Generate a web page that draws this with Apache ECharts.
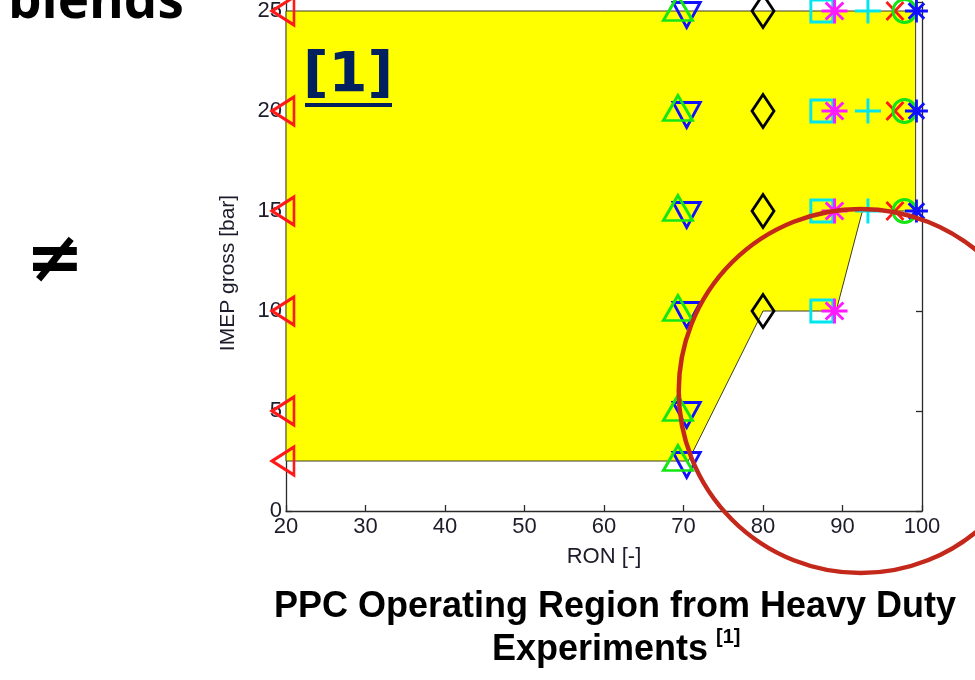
<!DOCTYPE html>
<html>
<head>
<meta charset="utf-8">
<script src="https://cdn.jsdelivr.net/npm/echarts@6/dist/echarts.min.js"></script>
<style>
  html, body { margin: 0; padding: 0; background: #ffffff; }
  #chart { width: 975px; height: 680px; }
</style>
</head>
<body>
<div id="chart"></div>
<script>
// Axis ranges and tick spacing
const ronTicks = [20, 30, 40, 50, 60, 70, 80, 90, 100];
const imepTicks = [0, 5, 10, 15, 20, 25];
const imepAxisMax = 25.45;

// Operating points (RON, IMEP gross) for each tested fuel
const fuelPrf20   = [[20, 25], [20, 20], [20, 15], [20, 10], [20, 5], [20, 2.5]];
const fuelGreenUp = [[69.3, 25], [69.3, 20], [69.3, 15], [69.3, 10], [69.3, 5], [69.3, 2.5]];
const fuelBlueDn  = [[70.4, 25], [70.4, 20], [70.4, 15], [70.4, 10], [70.4, 5], [70.4, 2.5]];
const fuelRon80   = [[80, 25], [80, 20], [80, 15], [80, 10]];
const fuelSquare  = [[87.4, 25], [87.4, 20], [87.4, 15], [87.4, 10]];
const fuelMagStar = [[89.0, 25], [89.0, 20], [89.0, 15], [89.0, 10]];
const fuelPlus    = [[93.2, 25], [93.2, 20], [93.2, 15]];
const fuelCross   = [[96.6, 25], [96.6, 20], [96.6, 15]];
const fuelCircle  = [[97.8, 25], [97.8, 20], [97.8, 15]];
const fuelBlueStar = [[99.3, 25], [99.3, 20], [99.3, 15]];

// Outline of the PPC operating region
const regionRon  = [20, 20, 99.2, 99.2, 92.5, 89.2, 80, 70.6];
const regionImep = [2.5, 25, 25, 15, 15, 10, 10, 2.5];

// Highlighted low-load / high-RON area
const highlightCenter = [92.3, 6.0];
const highlightRadiusRon = 22.9;

const PLUS = 'path://M0,5L10,5M5,0L5,10';
const CROSS = 'path://M0,0L10,10M10,0L0,10';
const STAR = 'path://M0,5L10,5M5,0L5,10M1.6,1.6L8.4,8.4M8.4,1.6L1.6,8.4';

function markers(name, data, symbol, size, color, extra) {
  return Object.assign({
    type: 'scatter',
    name: name,
    data: data,
    symbol: symbol,
    symbolSize: size,
    z: 3,
    silent: true,
    itemStyle: { color: 'rgba(0,0,0,0)', borderColor: color, borderWidth: 2.9, opacity: 1 }
  }, extra || {});
}

const axisFont = { fontFamily: 'Liberation Sans', fontSize: 22, color: '#1c1c2a' };
const lineStyle = { color: '#2a2a2a', width: 1.3 };
const onTick = (v) => imepTicks.indexOf(v) >= 0 ? String(v) : '';

const chart = echarts.init(document.getElementById('chart'), null, { renderer: 'canvas' });

chart.setOption({
  animation: false,
  backgroundColor: '#ffffff',
  grid: { left: 286, right: 53, top: 0, bottom: 169, containLabel: false },
  xAxis: {
    type: 'value',
    min: ronTicks[0], max: ronTicks[ronTicks.length - 1], interval: 10,
    name: 'RON [-]', nameLocation: 'middle', nameGap: 35,
    nameTextStyle: axisFont,
    axisLine: { show: true, onZero: false, lineStyle: lineStyle },
    axisTick: { show: true, inside: true, length: 6, lineStyle: lineStyle },
    axisLabel: Object.assign({ margin: 5 }, axisFont),
    splitLine: { show: false }
  },
  yAxis: [{
    type: 'value',
    min: imepTicks[0], max: imepAxisMax, interval: 5,
    name: 'IMEP gross [bar]', nameLocation: 'middle', nameGap: 47,
    nameTextStyle: Object.assign({ padding: [0, 33, 0, 0] }, axisFont, { fontSize: 21 }),
    axisLine: { show: true, onZero: false, lineStyle: lineStyle },
    axisTick: { show: true, inside: true, length: 6, lineStyle: lineStyle },
    axisLabel: Object.assign({ margin: 4, showMaxLabel: false, formatter: onTick }, axisFont),
    splitLine: { show: false }
  }, {
    type: 'value', position: 'right',
    min: imepTicks[0], max: imepAxisMax, interval: 5,
    axisLine: { show: true, onZero: false, lineStyle: lineStyle },
    axisTick: { show: true, inside: true, length: 6, lineStyle: lineStyle },
    axisLabel: { show: false },
    splitLine: { show: false }
  }],
  series: [
    {
      type: 'custom',
      name: 'PPC region',
      coordinateSystem: 'cartesian2d',
      silent: true,
      z: 1,
      data: regionRon.map((r, i) => [r, regionImep[i]]),
      renderItem: function (params, api) {
        if (params.dataIndex !== 0) return;
        const pts = regionRon.map((r, i) => api.coord([r, regionImep[i]]));
        return {
          type: 'polygon',
          shape: { points: pts },
          style: { fill: '#ffff00', stroke: '#3c3c28', lineWidth: 1 }
        };
      }
    },
    markers('fuel 1', fuelPrf20, 'triangle', [28, 22], '#ff1a1a', { symbolRotate: 90, symbolOffset: [-3, 0] }),
    markers('fuel 2', fuelBlueDn, 'triangle', [27, 25], '#1010ff', { symbolRotate: 180, symbolOffset: [0, 4] }),
    markers('fuel 3', fuelGreenUp, 'triangle', [29, 25], '#14e614', { symbolOffset: [0, -3] }),
    markers('fuel 4', fuelRon80, 'diamond', [22, 33], '#000000'),
    markers('fuel 5', fuelSquare, 'rect', [22, 22], '#00e5ee'),
    markers('fuel 6', fuelMagStar, STAR, [26, 25], '#ff1aff'),
    markers('fuel 7', fuelPlus, PLUS, [26, 25], '#00e5ee'),
    markers('fuel 8', fuelCross, CROSS, [17, 18], '#ff1a1a'),
    markers('fuel 9', fuelCircle, 'circle', [23, 23], '#14e614'),
    markers('fuel 10', fuelBlueStar, STAR, [23, 23], '#1010ff'),
    {
      type: 'custom',
      name: 'highlight',
      coordinateSystem: 'cartesian2d',
      silent: true,
      clip: false,
      z: 10,
      data: [highlightCenter],
      renderItem: function (params, api) {
        const c = api.coord(highlightCenter);
        const r = api.size([highlightRadiusRon, 0])[0];
        return {
          type: 'circle',
          shape: { cx: c[0], cy: c[1], r: r },
          style: { fill: 'none', stroke: '#c4281a', lineWidth: 4.5 }
        };
      }
    }
  ],
  graphic: [
    {
      type: 'text', left: 8, top: -24, z: 20,
      style: { text: 'blends', font: 'bold 53px "Open Sans"', fill: '#000000' }
    },
    {
      type: 'text', x: 55, y: 263, z: 20,
      style: { text: '\u2260', font: 'bold 70px "DejaVu Sans"', fill: '#000000', align: 'center', verticalAlign: 'middle' }
    },
    {
      type: 'text', x: 348, y: 76, z: 20,
      style: { text: '[1]', font: 'bold 56px "DejaVu Sans"', fill: '#002060', align: 'center', verticalAlign: 'middle' }
    },
    {
      type: 'rect', z: 20,
      shape: { x: 305, y: 103, width: 87, height: 4 },
      style: { fill: '#002060' }
    },
    {
      type: 'text', x: 615, y: 607, z: 20,
      style: { text: 'PPC Operating Region from Heavy Duty', font: 'bold 36px "Liberation Sans"', fill: '#000000', align: 'center', verticalAlign: 'middle' }
    },
    {
      type: 'text', x: 708, y: 650, z: 20,
      style: { text: 'Experiments', font: 'bold 36px "Liberation Sans"', fill: '#000000', align: 'right', verticalAlign: 'middle' }
    },
    {
      type: 'text', x: 716, y: 637, z: 20,
      style: { text: '[1]', font: 'bold 20px "Liberation Sans"', fill: '#000000', align: 'left', verticalAlign: 'middle' }
    }
  ]
});
</script>
</body>
</html>
